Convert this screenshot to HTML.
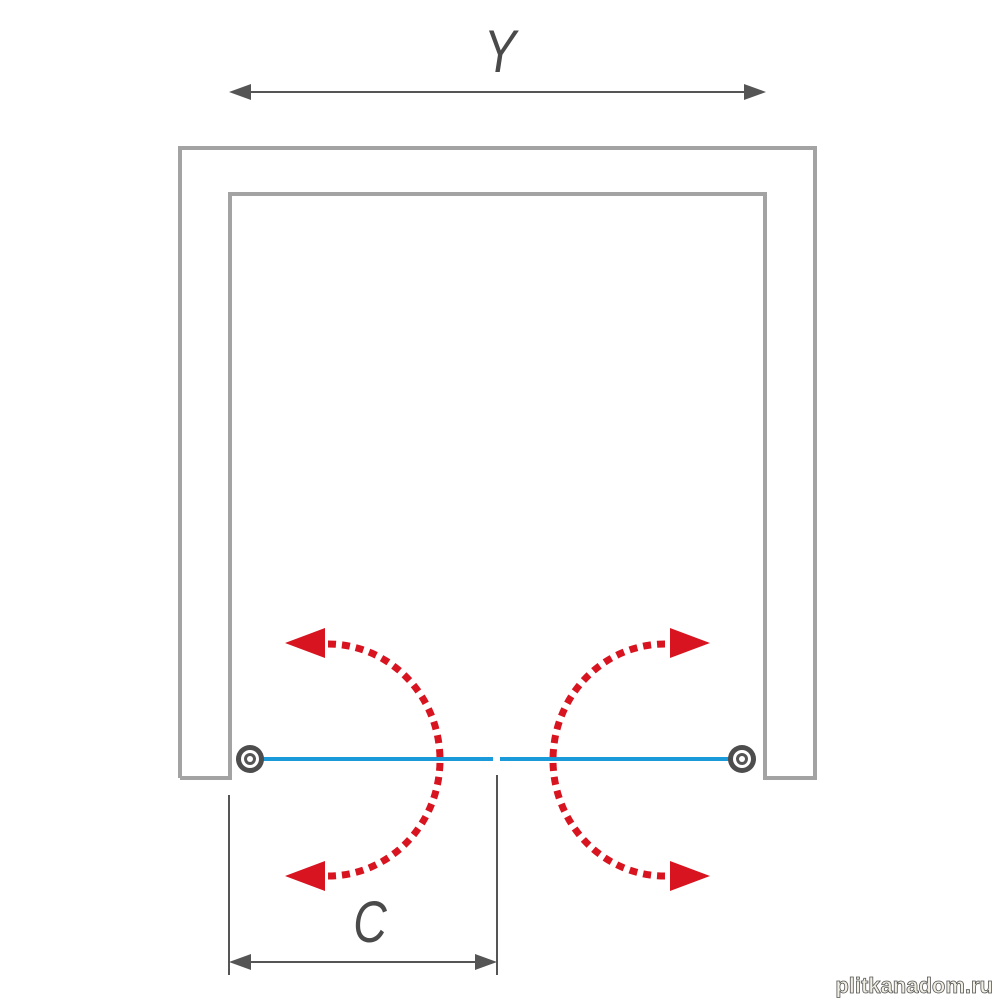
<!DOCTYPE html>
<html><head><meta charset="utf-8"><style>html,body{margin:0;padding:0;background:#fff}</style></head>
<body>
<svg width="1000" height="1000" viewBox="0 0 1000 1000" xmlns="http://www.w3.org/2000/svg">
<polyline points="180,778 180,148 815,148 815,778 765,778 765,194 230,194 230,778 180,778" fill="none" stroke="#a3a3a3" stroke-width="4"/>
<text transform="translate(500,72) scale(0.8,1)" text-anchor="middle" font-family="Liberation Sans, sans-serif" font-style="italic" font-size="60" fill="#4a4a4a">Y</text>
<line x1="245" y1="92" x2="750" y2="92" stroke="#555" stroke-width="2"/>
<polygon points="229,92 251,84 251,100" fill="#555"/>
<polygon points="766,92 744,84 744,100" fill="#555"/>
<line x1="250" y1="759" x2="493" y2="759" stroke="#1a9ad9" stroke-width="4"/>
<line x1="500" y1="759" x2="742" y2="759" stroke="#1a9ad9" stroke-width="4"/>
<g fill="#4d4d4d">
<circle cx="250" cy="759" r="14"/><circle cx="742" cy="759" r="14"/></g>
<g fill="#fff"><circle cx="250" cy="759" r="9"/><circle cx="742" cy="759" r="9"/></g>
<g fill="#555"><circle cx="250" cy="759" r="6"/><circle cx="742" cy="759" r="6"/></g>
<g fill="#fff"><circle cx="250" cy="759" r="3"/><circle cx="742" cy="759" r="3"/></g>
<g fill="none" stroke="#d7141f" stroke-width="7" stroke-dasharray="8,6">
<path d="M328,644 A112,116 0 0 1 328,876"/>
<path d="M665,644 A112,116 0 0 0 665,876"/>
</g>
<g fill="#d7141f">
<polygon points="285,643 325,628 325,658"/>
<polygon points="285,876 325,861 325,891"/>
<polygon points="710,643 670,628 670,658"/>
<polygon points="710,876 670,861 670,891"/>
</g>
<g stroke="#555" stroke-width="2">
<line x1="229" y1="795" x2="229" y2="975"/>
<line x1="497" y1="775" x2="497" y2="975"/>
<line x1="245" y1="962" x2="482" y2="962"/>
</g>
<polygon points="229,962 251,954 251,970" fill="#555"/>
<polygon points="497,962 475,954 475,970" fill="#555"/>
<text transform="translate(370,942) scale(0.8,1)" text-anchor="middle" font-family="Liberation Sans, sans-serif" font-style="italic" font-size="58" fill="#4a4a4a">C</text>
<text x="993" y="993" text-anchor="end" font-family="Liberation Sans, sans-serif" font-weight="bold" font-size="22" fill="#f2f0e4" stroke="#555" stroke-width="0.8">plitkanadom.ru</text>
</svg>
</body></html>
